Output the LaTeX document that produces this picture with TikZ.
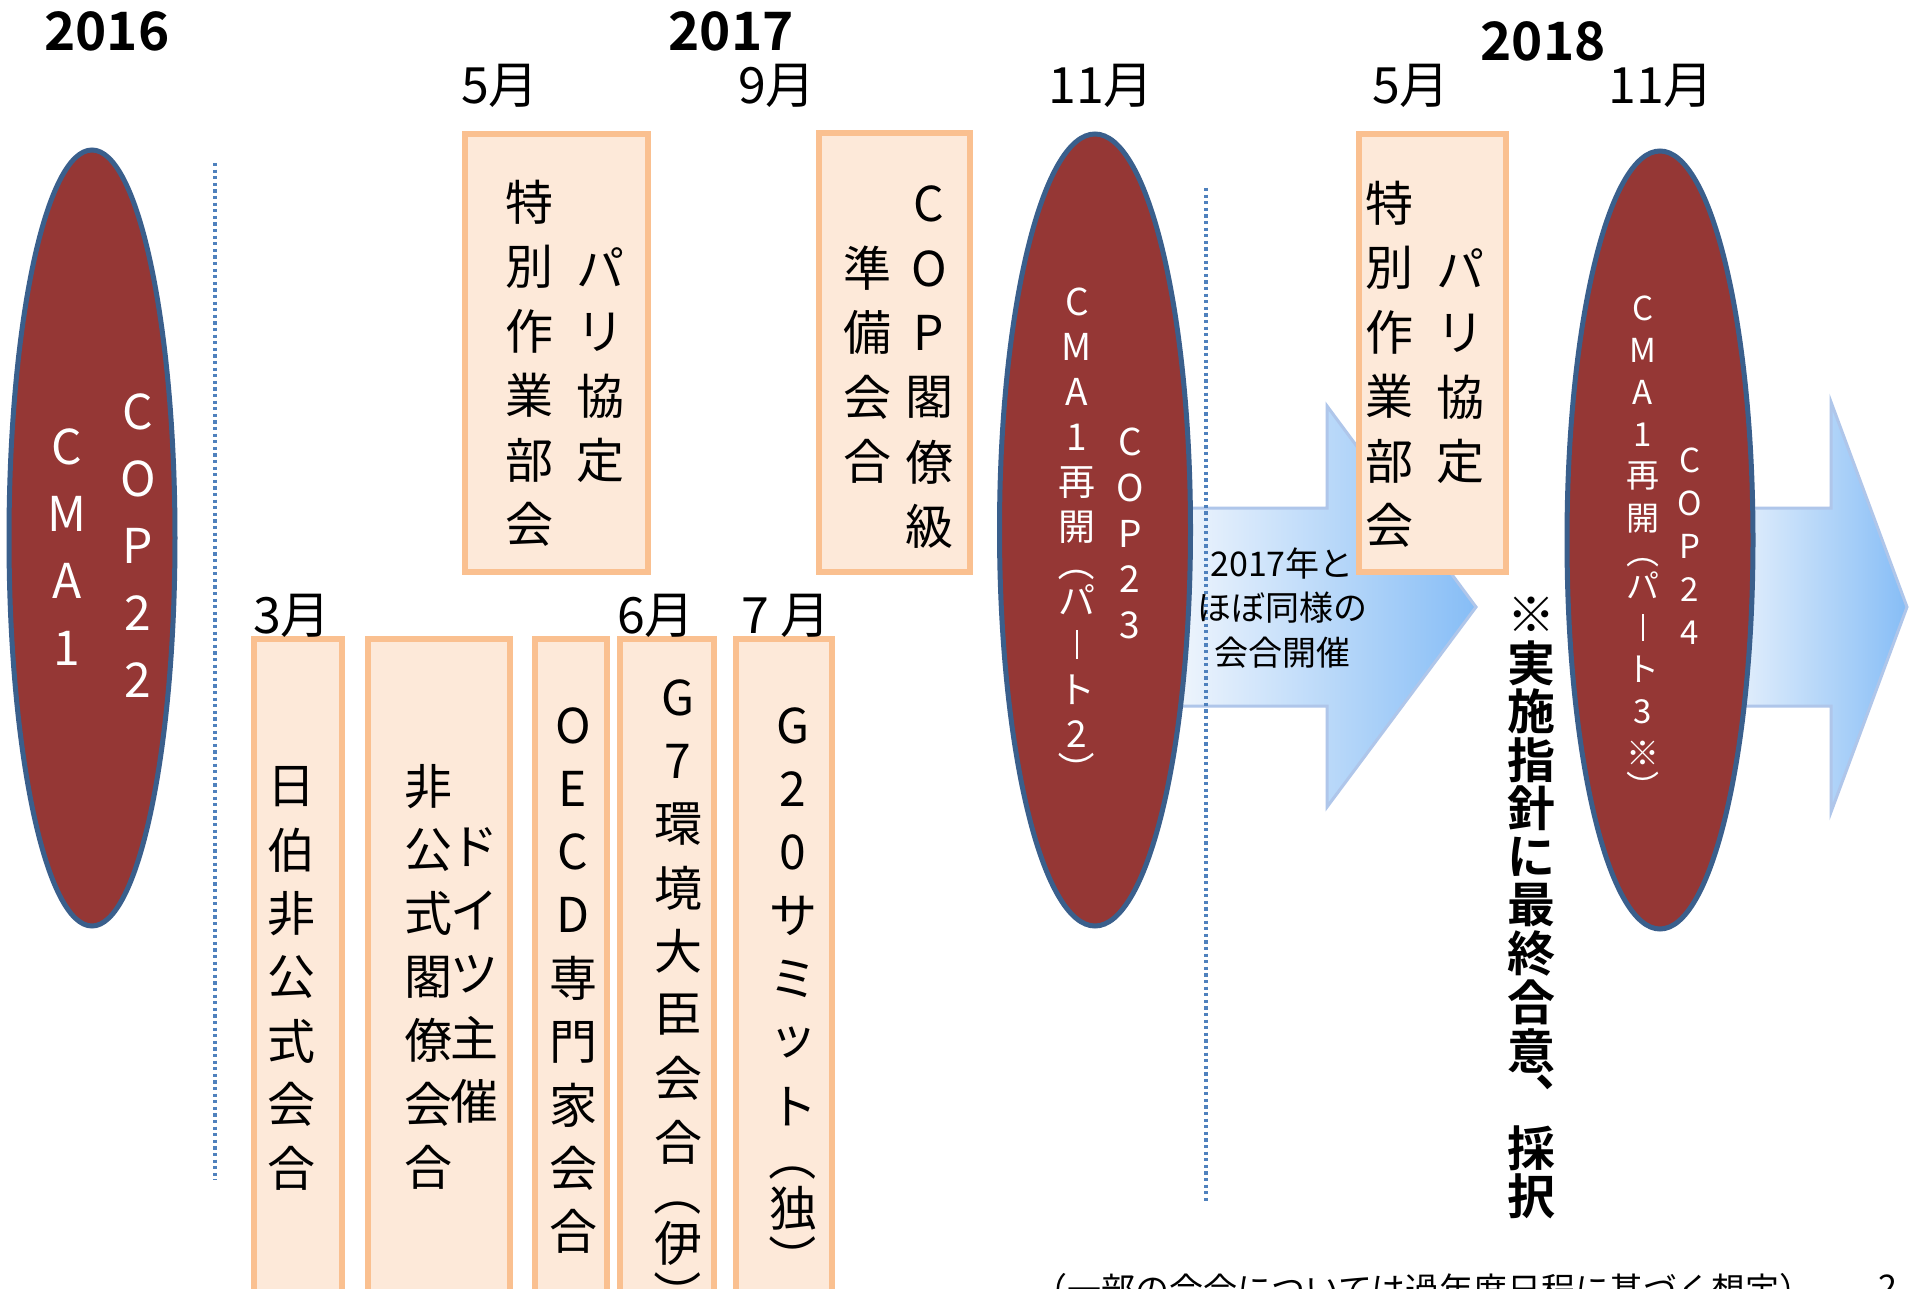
\documentclass[tikz,border=0pt]{standalone}
\usepackage{fontspec}
\usepackage{graphicx}
\setmainfont{Noto Sans CJK JP}[BoldFont={Noto Sans CJK JP Bold}]
\newfontfamily\vfont{Noto Sans CJK JP}[BoldFont={Noto Sans CJK JP Bold}]
\usetikzlibrary{shapes.geometric}
\definecolor{ellfill}{HTML}{953735}
\definecolor{ellline}{HTML}{3A5F8C}
\definecolor{boxfill}{HTML}{FDE9D9}
\definecolor{boxline}{HTML}{FAC090}
\definecolor{dotline}{HTML}{4F81BD}
\definecolor{arrline}{HTML}{AFC6EA}
\definecolor{arrleft}{HTML}{F8FAFD}
\definecolor{arrright}{HTML}{86BDF6}
% vertical text machinery
\newlength\vrh
\newbox\vgbox
% #1 row factor, #2 dx, #3 raise, #4 content (ink centred on the row)
\newcommand\vcx[4]{\setbox\vgbox\hbox{#4}%
  \hbox to 3em{\hss\vrule width0pt height\dimexpr#1\vrh/2\relax depth\dimexpr#1\vrh/2\relax
  \kern#2\smash{\lower\dimexpr(\ht\vgbox-\dp\vgbox)/2-#3\relax\box\vgbox}\kern-#2\hss}}
\newcommand\vsend{}
\def\vs#1{\vsloop#1\vsend}
\def\vsloop#1{\ifx#1\vsend\else\vsone#1\expandafter\vsloop\fi}
\def\vsone#1{%
  \ifx#1（\vcx{.6}{0pt}{0pt}{\rotatebox{-90}{（}}\else
  \ifx#1）\vcx{.6}{0pt}{0pt}{\rotatebox{-90}{）}}\else
  \ifx#1ー\vcx{1}{0pt}{0pt}{\vrule width .065em height .4em depth .4em}\else
  \ifx#1、\vcx{1}{14pt}{8.5pt}{、}\else
  \vcx{1}{0pt}{0pt}{#1}\fi\fi\fi\fi}
\newcommand\vcol[2]{\setlength\vrh{#1}\vbox{\offinterlineskip\vs{#2}}}
\tikzset{
  ell/.style={ellipse, draw=ellline, fill=ellfill, line width=2.5pt, inner sep=0pt},
  pbox/.style={rectangle, draw=boxline, fill=boxfill, line width=3pt, inner sep=0pt},
  col/.style={anchor=north, inner sep=0pt},
  year/.style={inner sep=0pt, font=\bfseries\fontsize{26.5pt}{30pt}\selectfont},
  month/.style={inner sep=0pt, font=\fontsize{25pt}{28pt}\selectfont},
  dots/.style={draw=dotline, line width=1.75pt, dash pattern=on 1.6pt off 1.7pt},
  barrow/.style={draw=arrline, line width=1.5pt, left color=arrleft, right color=arrright},
}
\begin{document}
\begin{tikzpicture}[x=0.5pt,y=-0.5pt]
\useasboundingbox (0,0) rectangle (1918,1289);
\fill[white] (0,0) rectangle (1918,1289);

% block arrows
\draw[barrow] (1150,508) -- (1327,508) -- (1327,406) -- (1476,607) -- (1327,807) -- (1327,706) -- (1150,706) -- cycle;
\draw[barrow] (1700,508) -- (1831,508) -- (1831,402) -- (1907,607) -- (1831,812) -- (1831,706) -- (1700,706) -- cycle;

% dotted separators
\coordinate (l1a) at (215,163); \coordinate (l1b) at (215,1180);
\coordinate (l2a) at (1206,188); \coordinate (l2b) at (1206,1203);
\draw[dots] (l1a) -- (l1b);
\draw[dots] (l2a) -- (l2b);

% ellipses
\node[ell, minimum width=83pt, minimum height=388pt] (e1) at (92,538) {};
\node[ell, minimum width=95.5pt, minimum height=396pt] (e2) at (1095,530) {};
\node[ell, minimum width=93pt, minimum height=389pt] (e3) at (1660,540) {};

% ellipse texts
\node[col, text=white, font=\vfont\fontsize{24pt}{24pt}\selectfont] (e1l) at (67,413.5) {\vcol{33.5pt}{CMA1}};
\node[col, text=white, font=\vfont\fontsize{24pt}{24pt}\selectfont] (e1r) at (138,378.5) {\vcol{33.5pt}{COP22}};
\node[col, text=white, font=\vfont\fontsize{18.5pt}{18.5pt}\selectfont] (e2l) at (1077,279.5) {\vcol{22.5pt}{CMA1再開（パート2）}};
\node[col, text=white, font=\vfont\fontsize{18.5pt}{18.5pt}\selectfont] (e2r) at (1130,419) {\vcol{22.85pt}{COP23}};
\node[col, text=white, font=\vfont\fontsize{16.5pt}{16.5pt}\selectfont] (e3l) at (1643,287) {\vcol{21pt}{CMA1再開（パート3※）}};
\node[col, text=white, font=\vfont\fontsize{16.5pt}{16.5pt}\selectfont] (e3r) at (1690,438.5) {\vcol{21.5pt}{COP24}};

% arrow text
\node[inner sep=0pt, align=center, font=\fontsize{17pt}{22.25pt}\selectfont] (atext) at (1282,608) {2017年と\\ほぼ同様の\\会合開催};

% boxes
\node[pbox, minimum width=91.5pt, minimum height=219pt] (b1) at (556.5,353) {};
\node[pbox, minimum width=75.5pt, minimum height=219.5pt] (b2) at (894.5,352.5) {};
\node[pbox, minimum width=73.5pt, minimum height=219pt] (b8) at (1432.5,353) {};
\node[pbox, minimum width=44pt, minimum height=330.5pt] (b3) at (298,969.5) {};
\node[pbox, minimum width=71pt, minimum height=330.5pt] (b4) at (439,969.5) {};
\node[pbox, minimum width=36pt, minimum height=330.5pt] (b5) at (571,969.5) {};
\node[pbox, minimum width=47pt, minimum height=330.5pt] (b6) at (667,969.5) {};
\node[pbox, minimum width=48pt, minimum height=330.5pt] (b7) at (784,969.5) {};

% box texts
\tikzset{btxt/.style={col, font=\vfont\fontsize{24pt}{24pt}\selectfont}}
\node[btxt] (b1l) at (529,169.8) {\vcol{32.2pt}{特別作業部会}};
\node[btxt] (b1r) at (600,234.8) {\vcol{32.2pt}{パリ協定}};
\node[btxt] (b2r) at (929,171.8) {\vcol{32.2pt}{COP閣僚級}};
\node[btxt] (b2l) at (867,235.8) {\vcol{32.2pt}{準備会合}};
\node[btxt] (b8l) at (1389,170.8) {\vcol{32.2pt}{特別作業部会}};
\node[btxt] (b8r) at (1460,235.8) {\vcol{32.2pt}{パリ協定}};
\node[btxt] (b3t) at (291,754) {\vcol{31.85pt}{日伯非公式会合}};
\node[btxt] (b4l) at (428,754.25) {\vcol{31.75pt}{非公式閣僚会合}};
\node[btxt] (b4r) at (474,815.25) {\vcol{31.75pt}{ドイツ主催}};
\node[btxt] (b5t) at (573,693.35) {\vcol{31.65pt}{OECD専門家会合}};
\node[btxt] (b6t) at (678,665.25) {\vcol{31.75pt}{G7環境大臣会合（伊）}};
\node[btxt] (b7t) at (793,693.25) {\vcol{31.75pt}{G20サミット（独）}};

% big bold note
\node[col, font=\vfont\bfseries\fontsize{24pt}{24pt}\selectfont] (final) at (1531,589.75) {\vcol{24.25pt}{※実施指針に最終合意、採択}};

% years
\node[year] (y2016) at (107,31) {2016};
\node[year] (y2017) at (731,31) {2017};
\node[year] (y2018) at (1543,41) {2018};

% months
\node[month] (m1) at (500,86) {5月};
\node[month] (m2) at (777,86) {9月};
\node[month] (m3) at (1101,86) {11月};
\node[month] (m4) at (1411,86) {5月};
\node[month] (m5) at (1661,86) {11月};
\node[month] (m6) at (292,616) {3月};
\node[month] (m7) at (656,616) {6月};
\node[month] (m8) at (786,616) {7 月};

% bottom note
\node[anchor=north west, inner sep=0pt, font=\fontsize{17pt}{20pt}\selectfont] (note) at (1033,1273) {（一部の会合については過年度日程に基づく想定）};
\node[anchor=north west, inner sep=0pt, font=\fontsize{17pt}{20pt}\selectfont] (pnum) at (1878,1274) {2};
\end{tikzpicture}
\end{document}
